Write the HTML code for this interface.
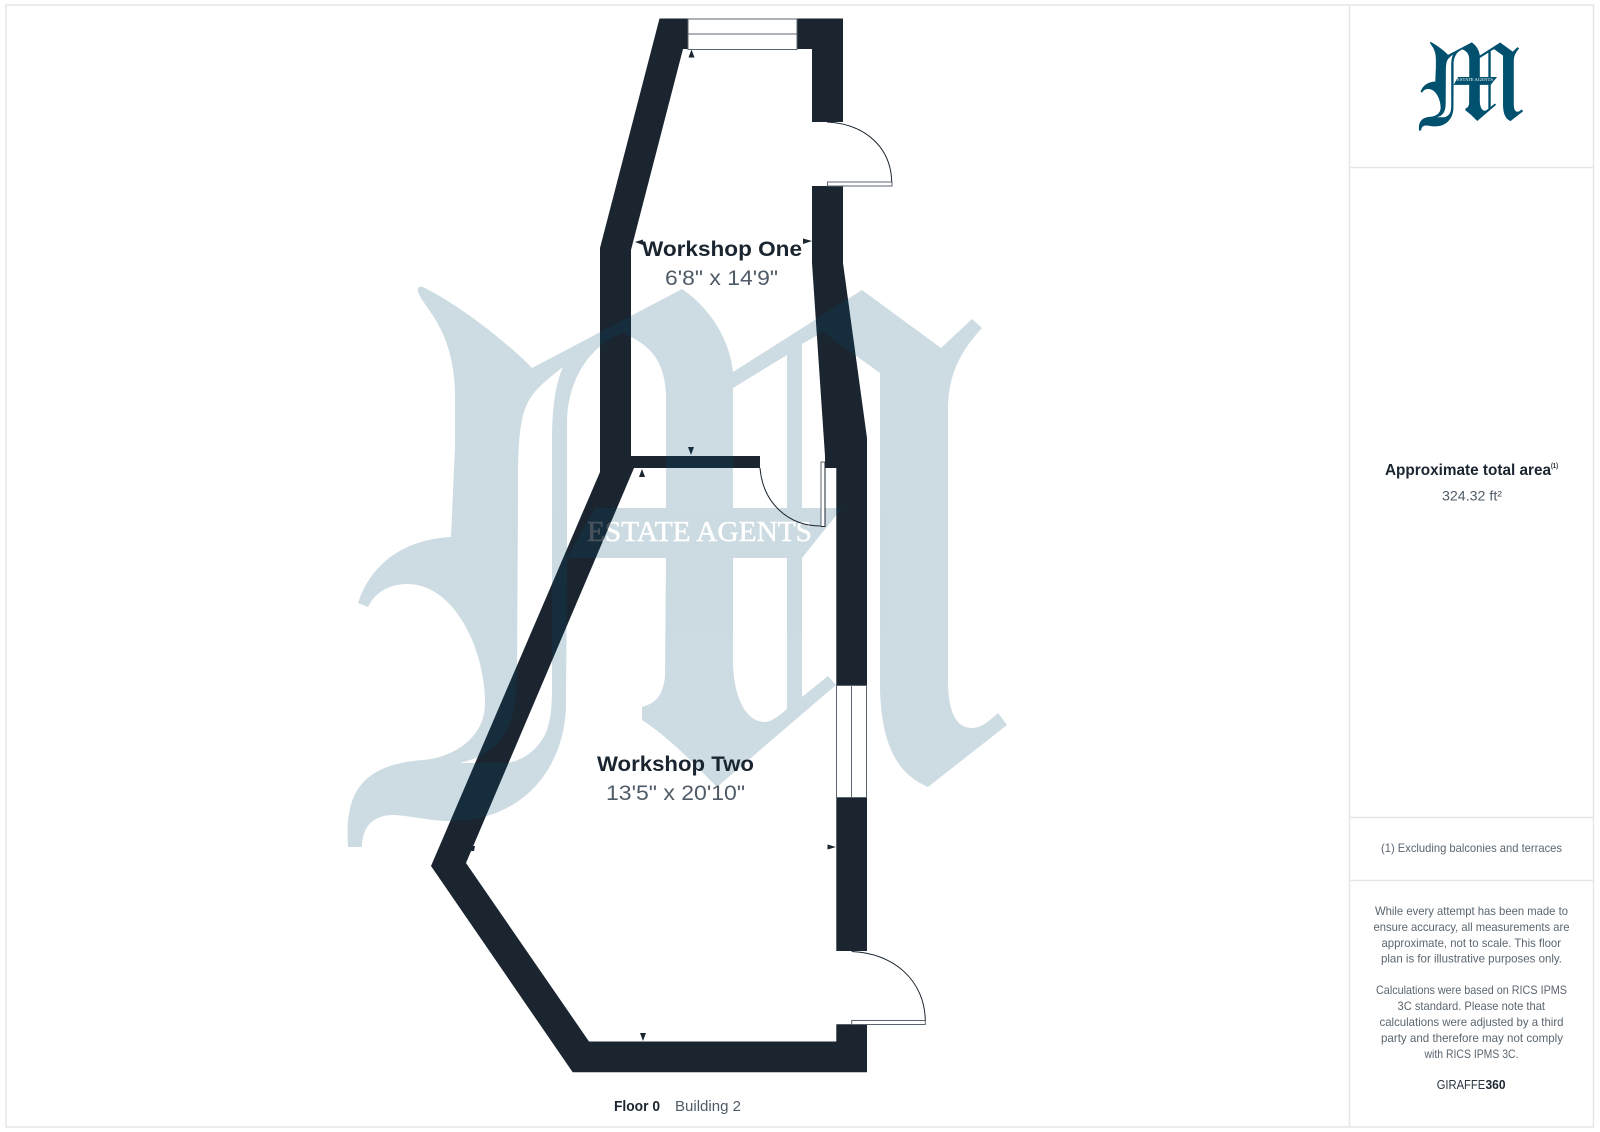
<!DOCTYPE html>
<html lang="en"><head><meta charset="utf-8"><title>Floor plan</title>
<style>
html,body{margin:0;padding:0;background:#fff}
svg{display:block}
.sans{font-family:"Liberation Sans",sans-serif}
.h{font-weight:700;fill:#1b2530}
.d{fill:#4f5b67}
.s{fill:#5b6670;font-size:12px}
</style></head><body>
<svg width="1600" height="1132" viewBox="0 0 1600 1132" xmlns="http://www.w3.org/2000/svg" class="sans">
<defs>
<path id="m" fill-rule="evenodd" d="M418 292C417 287 420 286 423 287C460 305 510 345 532 368L682 289C713 310 730 343 733 372L862 290L941 348L972 319L982 328C960 352 948 375 948 410L948 680C948 710 955 728 972 728C982 728 990 720 998 713L1007 725L928 787C900 775 882 750 880 690L880 373L823 332L802 344L802 508L842 508L802 558L802 697L828 676L836 685L717 787C695 765 670 738 642 720L642 707C655 703 662 698 665 677L666 558L567 558L566 703C566 760 530 822 447 821C425 820 405 815 393 815C375 815 362 825 362 847L348 847C345 800 355 765 423 760C450 758 485 740 485 703C485 650 455 584 407 584C390 584 375 592 368 607L358 603C368 572 395 540 451 537L455 447L455 397C455 330 425 310 418 292Z
M567 423C567 380 590 345 623 333C650 345 666 360 666 400L666 508L595 508L567 558Z
M563 367C540 385 527 395 522 420C518 440 518 460 518 500L517 670C517 705 512 725 500 740C490 752 480 758 460 763L507 763C525 760 540 748 547 730C552 715 552 700 552 680L552 440C552 410 555 385 563 367Z
M733 388L787 355L787 508L733 508Z
M733 558L787 558L787 709C777 718 770 722 765 722C745 722 733 695 733 660Z"/>
</defs>
<rect width="1600" height="1132" fill="#fff"/>
<g fill="none" stroke="#e6e6e6" stroke-width="1.5">
<rect x="6" y="5" width="1587.5" height="1122"/>
<path d="M1349.5 5V1127M1349.5 167.5H1593.5M1349.5 817.5H1593.5M1349.5 880.5H1593.5"/>
</g>
<!-- walls -->
<g fill="#1b2530">
<path d="M659.5 18.5L688 18.5L688 49L683 49L631 250L631 456L760 456L760 468L634 468L466 863L589 1041.5L836.3 1041.5L836.3 1024.3L867 1024.3L867 1072.3L572.7 1072.3L431 866L600 472L600 248Z"/>
<path d="M797 18.5L843 18.5L843 122L812 122L812 49L797 49Z"/>
<path d="M812 186L843 186L843 263L867 438L867 685.3L836.3 685.3L836.3 468L825 468L825 456L812 263Z"/>
<path d="M836.3 797.3L867 797.3L867 951L836.3 951Z"/>
<path d="M691.5 49.5L688.5 57.5L694.5 57.5ZM635 242L643 239.5L643 245ZM812 241L803 238.5L803 244ZM688 447L694 447L691 455ZM642 469L639 477L645 477ZM836 847L827.5 844.5L827.5 849.5ZM640 1033L646 1033L643 1041ZM472 846L475 846L474 851L471 851Z"/>
</g>
<!-- windows -->
<g fill="#fff" stroke="#5a6570" stroke-width="1">
<rect x="688" y="19" width="109" height="30.5"/>
<path d="M688 34H797" fill="none"/>
<rect x="836.5" y="685.5" width="30" height="112"/>
<path d="M851.5 685.5V797.5" fill="none"/>
</g>
<!-- watermark -->
<g opacity=".2">
<use href="#m" fill="#00506e"/>
<text x="587" y="541" font-family="'Liberation Serif',serif" font-size="29" fill="#fff" stroke="#fff" stroke-width=".5" textLength="225" lengthAdjust="spacingAndGlyphs">ESTATE AGENTS</text>
</g>
<!-- doors -->
<g fill="none" stroke="#1b2530" stroke-width="1">
<path d="M827 122C866 124 891 148 891.7 182"/>
<path d="M760 468C763 503 788 526 821 526"/>
<path d="M851.7 951.5C893 953 925 980 925.3 1021"/>
</g>
<g fill="#fff" stroke="#5a6570" stroke-width="1">
<rect x="827.5" y="182" width="64.5" height="4"/>
<rect x="821" y="462" width="4" height="64.5"/>
<rect x="851.7" y="1020.5" width="73.6" height="4"/>
</g>
<path d="M825 462V526.5H821" fill="none" stroke="#1b2530" stroke-width="1"/>
<!-- labels -->
<text class="h" x="642" y="256" font-size="21.5" textLength="160" lengthAdjust="spacingAndGlyphs">Workshop One</text>
<text class="d" x="665" y="285" font-size="21" textLength="113" lengthAdjust="spacingAndGlyphs">6'8" x 14'9"</text>
<text class="h" x="597" y="771" font-size="21.5" textLength="157" lengthAdjust="spacingAndGlyphs">Workshop Two</text>
<text class="d" x="606" y="800" font-size="21" textLength="139" lengthAdjust="spacingAndGlyphs">13'5" x 20'10"</text>
<text class="h" x="614" y="1111" font-size="15" textLength="46" lengthAdjust="spacingAndGlyphs">Floor 0</text>
<text class="d" x="675" y="1111" font-size="15" textLength="66" lengthAdjust="spacingAndGlyphs">Building 2</text>
<!-- logo -->
<g transform="translate(1364 -3.3) scale(.158)">
<use href="#m" fill="#00506e"/>
</g>
<text x="1457" y="81" font-family="'Liberation Serif',serif" font-size="4.6" fill="#fff" textLength="36" lengthAdjust="spacingAndGlyphs">ESTATE AGENTS</text>
<!-- side panel -->
<text class="h" x="1385" y="475" font-size="15.5" textLength="166" lengthAdjust="spacingAndGlyphs">Approximate total area</text>
<text class="h" x="1551" y="468" font-size="7.5" textLength="7" lengthAdjust="spacingAndGlyphs">(1)</text>
<text class="d" x="1442" y="500.5" font-size="14" textLength="60" lengthAdjust="spacingAndGlyphs">324.32 ft²</text>
<text class="s" x="1381" y="852" textLength="181" lengthAdjust="spacingAndGlyphs">(1) Excluding balconies and terraces</text>
<text class="s" x="1375" y="915" textLength="193" lengthAdjust="spacingAndGlyphs">While every attempt has been made to</text>
<text class="s" x="1373.5" y="931" textLength="196" lengthAdjust="spacingAndGlyphs">ensure accuracy, all measurements are</text>
<text class="s" x="1381.5" y="947" textLength="179.5" lengthAdjust="spacingAndGlyphs">approximate, not to scale. This floor</text>
<text class="s" x="1381" y="962.5" textLength="181" lengthAdjust="spacingAndGlyphs">plan is for illustrative purposes only.</text>
<text class="s" x="1376" y="994" textLength="191" lengthAdjust="spacingAndGlyphs">Calculations were based on RICS IPMS</text>
<text class="s" x="1397.5" y="1010" textLength="147.5" lengthAdjust="spacingAndGlyphs">3C standard. Please note that</text>
<text class="s" x="1379.5" y="1026" textLength="184" lengthAdjust="spacingAndGlyphs">calculations were adjusted by a third</text>
<text class="s" x="1381" y="1042" textLength="182" lengthAdjust="spacingAndGlyphs">party and therefore may not comply</text>
<text class="s" x="1424.5" y="1058" textLength="94" lengthAdjust="spacingAndGlyphs">with RICS IPMS 3C.</text>
<text x="1436.7" y="1089" font-size="12.5" fill="#2b3540" textLength="48.5" lengthAdjust="spacingAndGlyphs">GIRAFFE</text>
<text x="1485.5" y="1089" font-size="12.5" font-weight="700" fill="#1b2530" textLength="20" lengthAdjust="spacingAndGlyphs">360</text>
</svg>
</body></html>
